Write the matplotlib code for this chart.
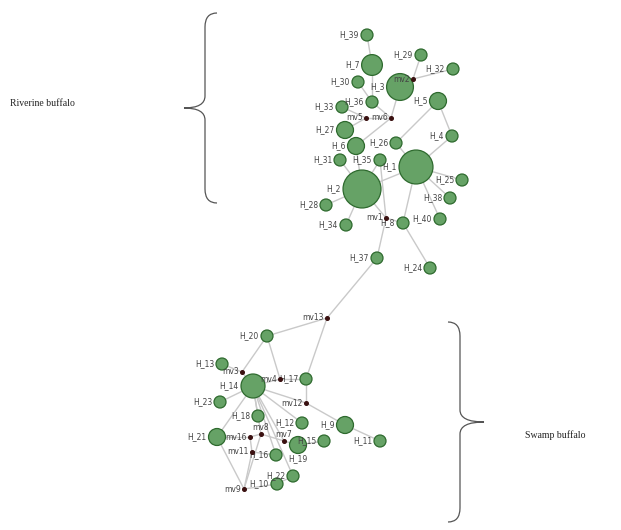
import numpy as np
import matplotlib.pyplot as plt
from matplotlib.patches import Circle, PathPatch
from matplotlib.path import Path

# haplotypes: name, position in the network layout, frequency
hap_names = ['H_39', 'H_7', 'H_29', 'H_32', 'H_30', 'H_3', 'H_36', 'H_33', 'H_5',
             'H_27', 'H_4', 'H_6', 'H_26', 'H_31', 'H_35', 'H_1', 'H_2', 'H_25',
             'H_38', 'H_28', 'H_34', 'H_8', 'H_40', 'H_37', 'H_24',
             'H_20', 'H_13', 'H_14', 'H_17', 'H_23', 'H_18', 'H_12', 'H_9', 'H_21',
             'H_19', 'H_15', 'H_11', 'H_16', 'H_22', 'H_10']
hap_x = [367, 372, 421, 453, 358, 400, 372, 342, 438,
         345, 452, 356, 396, 340, 380, 416, 362, 462,
         450, 326, 346, 403, 440, 377, 430,
         267, 222, 253, 306, 220, 258, 302, 345, 217,
         298, 324, 380, 276, 293, 277]
hap_y = [35, 65, 55, 69, 82, 87, 102, 107, 101,
         130, 136, 146, 143, 160, 160, 167, 189, 180,
         198, 205, 225, 223, 219, 258, 268,
         336, 364, 386, 379, 402, 416, 423, 425, 437,
         445, 441, 441, 455, 476, 484]
hap_freq = [1, 3, 1, 1, 1, 5, 1, 1, 2,
            2, 1, 2, 1, 1, 1, 8, 10, 1,
            1, 1, 1, 1, 1, 1, 1,
            1, 1, 4, 1, 1, 1, 1, 2, 2,
            2, 1, 1, 1, 1, 1]

# median vectors
mv_names = ['mv2', 'mv5', 'mv6', 'mv1', 'mv13', 'mv3', 'mv4', 'mv12',
            'mv16', 'mv8', 'mv7', 'mv11', 'mv9']
mv_x = [413, 366, 391, 386, 327, 242, 280, 306, 250, 261, 284, 252, 244]
mv_y = [79, 118, 118, 218, 318, 372, 379, 403, 437, 434, 441, 452, 489]

links = [('H_39', 'H_7'), ('H_7', 'H_36'), ('H_30', 'H_36'), ('H_36', 'mv6'),
         ('H_3', 'mv6'), ('H_3', 'mv2'), ('mv2', 'H_29'), ('mv2', 'H_32'),
         ('H_33', 'mv5'), ('mv5', 'mv6'), ('H_27', 'mv5'), ('H_6', 'mv6'),
         ('H_5', 'H_26'), ('H_5', 'H_4'), ('H_4', 'H_1'), ('H_26', 'H_1'),
         ('H_6', 'H_2'), ('H_35', 'H_2'), ('H_2', 'H_1'), ('H_31', 'H_2'),
         ('H_28', 'H_2'), ('H_34', 'H_2'), ('H_2', 'mv1'), ('H_35', 'mv1'),
         ('H_1', 'H_8'), ('H_1', 'H_25'), ('H_1', 'H_38'), ('H_1', 'H_40'),
         ('mv1', 'H_8'), ('mv1', 'H_37'), ('H_8', 'H_24'), ('H_37', 'mv13'),
         ('mv13', 'H_20'), ('mv13', 'H_17'), ('H_20', 'mv3'), ('H_20', 'mv4'),
         ('mv3', 'H_13'), ('mv3', 'H_14'), ('mv4', 'H_14'), ('mv4', 'H_17'),
         ('H_17', 'mv12'), ('mv12', 'H_9'), ('H_14', 'mv12'), ('H_9', 'H_11'),
         ('H_14', 'H_23'), ('H_14', 'H_18'), ('H_14', 'mv8'), ('H_14', 'mv7'),
         ('H_14', 'H_12'), ('H_14', 'H_21'), ('H_14', 'H_16'), ('H_14', 'H_22'),
         ('H_21', 'mv16'), ('H_21', 'mv9'), ('mv16', 'mv8'), ('mv8', 'mv7'),
         ('mv7', 'H_19'), ('H_19', 'H_15'), ('mv11', 'H_16'), ('mv11', 'mv9'),
         ('mv9', 'H_10'), ('mv9', 'mv8'), ('H_10', 'H_22'), ('mv16', 'mv11')]

groups = ['Riverine buffalo', 'Swamp buffalo']

# labels moved off the default left side in crowded spots
label_above = ['mv8', 'mv7']
label_below = ['H_19']


def brace(ax, x, y0, y1, tip, facing):
    # curly brace as bezier path; facing = -1 points left, +1 points right
    ym = (y0 + y1) / 2
    d = 12 * facing
    verts = [(x - d, y0), (x, y0), (x, y0 + 14),
             (x, ym - 12), (x, ym), (tip, ym),
             (x, ym), (x, ym + 12),
             (x, y1 - 14), (x, y1), (x - d, y1)]
    codes = [Path.MOVETO, Path.CURVE3, Path.CURVE3,
             Path.LINETO, Path.CURVE3, Path.CURVE3,
             Path.CURVE3, Path.CURVE3,
             Path.LINETO, Path.CURVE3, Path.CURVE3]
    ax.add_patch(PathPatch(Path(verts, codes), fill=False, lw=0.9, color='#555555'))


def put_label(ax, name, x, y, r):
    kw = dict(fontsize=5.5, color='#444444', zorder=4)
    if name in label_above:
        ax.text(x, y - r - 1, name, ha='center', va='bottom', **kw)
    elif name in label_below:
        ax.text(x, y + r + 1, name, ha='center', va='top', **kw)
    else:
        ax.text(x - r - 2, y, name, ha='right', va='center', **kw)


def main():
    fig = plt.figure(figsize=(6.21, 5.30), dpi=100)
    ax = fig.add_axes([0, 0, 1, 1])
    ax.set_xlim(0, 621)
    ax.set_ylim(530, 0)
    ax.set_aspect('equal')
    ax.axis('off')

    pos = {n: (x, y) for n, x, y in zip(hap_names, hap_x, hap_y)}
    pos.update({n: (x, y) for n, x, y in zip(mv_names, mv_x, mv_y)})

    for a, b in links:
        ax.plot([pos[a][0], pos[b][0]], [pos[a][1], pos[b][1]],
                color='#c9c9c9', lw=1.0, zorder=1)

    for n, x, y, f in zip(hap_names, hap_x, hap_y, hap_freq):
        r = 6 * np.sqrt(f)
        ax.add_patch(Circle((x, y), r, facecolor='#66a266', edgecolor='#2e6a2e',
                            lw=0.9, zorder=3))
        put_label(ax, n, x, y, r)

    for n, x, y in zip(mv_names, mv_x, mv_y):
        ax.plot(x, y, 'o', ms=2.6, color='#3a1010', zorder=5)
        put_label(ax, n, x, y, 1)

    brace(ax, 205, 13, 203, 184, -1)
    brace(ax, 460, 322, 522, 484, 1)

    ax.text(10, 104, groups[0], fontsize=7, family='Liberation Serif',
            ha='left', va='center', color='#222222')
    ax.text(525, 435, groups[1], fontsize=7, family='Liberation Serif',
            ha='left', va='center', color='#222222')

    fig.savefig('out.png', dpi=100)


if __name__ == "__main__":
    main()
